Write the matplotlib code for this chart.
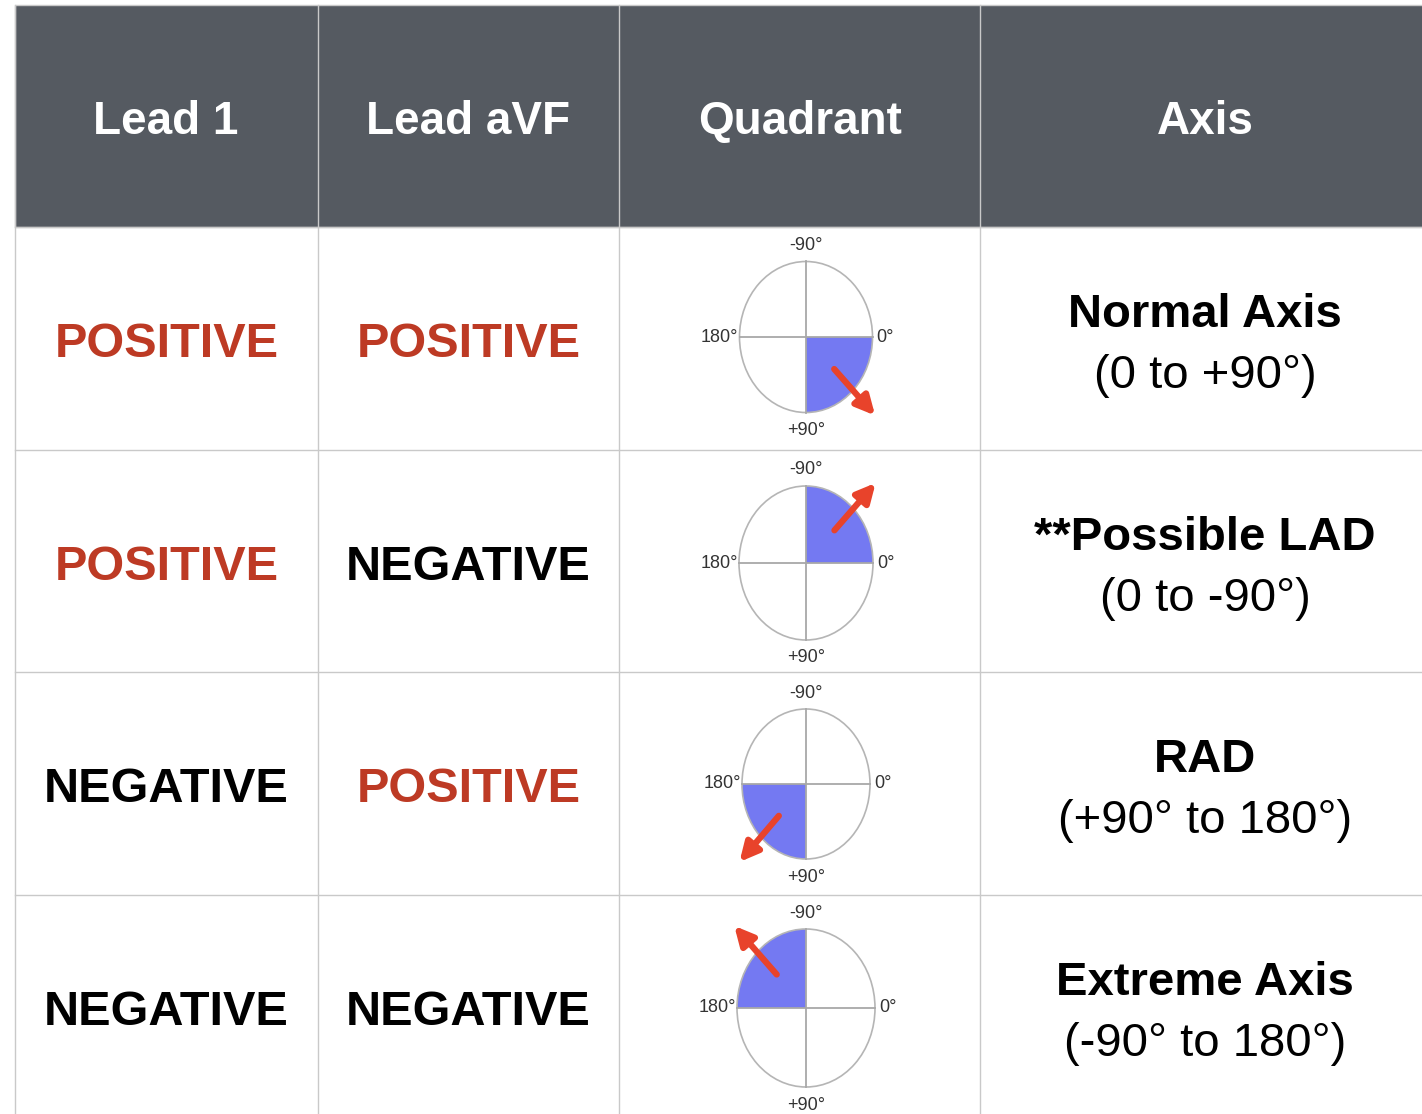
import math
import matplotlib
matplotlib.use('Agg')
import matplotlib.pyplot as plt
from matplotlib.patches import Rectangle, Wedge, Ellipse

# table content
headers = ['Lead 1', 'Lead aVF', 'Quadrant', 'Axis']
lead1 = ['POSITIVE', 'POSITIVE', 'NEGATIVE', 'NEGATIVE']
lead_avf = ['POSITIVE', 'NEGATIVE', 'POSITIVE', 'NEGATIVE']
axis_name = ['Normal Axis', '**Possible LAD', 'RAD', 'Extreme Axis']
axis_range = ['(0 to +90°)', '(0 to -90°)', '(+90° to 180°)', '(-90° to 180°)']
# quadrant limits and mean vector direction (ECG degrees, +90 points down)
quad_from = [0, -90, 90, -180]
quad_to = [90, 0, 180, -90]
vector_deg = [45, -45, 135, -135]

FONT = ['Liberation Sans', 'DejaVu Sans']
HEAD_BG = '#555a61'
GRID = '#c9c9c9'
RED = '#bd3a24'
BLUE = '#7479f2'
ARROW = '#e8432b'

W, H = 1422, 1114
col_x = [15, 318, 619, 980, 1440]
row_y = [5, 227, 450, 672, 895, 1118]
# ellipse geometry per row (pixel centre and half-axes)
circ_cy = [337, 563, 784, 1008]
circ_rx = [66.5, 67, 64, 69]
circ_ry = [75.5, 77, 75, 79]
circ_cx = 806

fig = plt.figure(figsize=(W / 100, H / 100), dpi=100)
ax = fig.add_axes([0, 0, 1, 1])
ax.set_xlim(0, W)
ax.set_ylim(H, 0)
ax.axis('off')

# header band
ax.add_patch(Rectangle((col_x[0], row_y[0]), col_x[-1] - col_x[0], row_y[1] - row_y[0],
                       facecolor=HEAD_BG, edgecolor=GRID, lw=1))
head_cx = [166, 468, 800, 1205]
for cx, h in zip(head_cx, headers):
    ax.text(cx, 134, h, ha='center', va='baseline', color='white', fontsize=33,
            fontweight='bold', family=FONT)

# grid lines
for y in row_y[1:-1]:
    ax.plot([col_x[0], col_x[-1]], [y, y], color=GRID, lw=1)
for x in col_x[:-1]:
    ax.plot([x, x], [row_y[0], row_y[-1]], color=GRID, lw=1)

for r in range(4):
    top = row_y[r + 1]
    for c, val in enumerate([lead1[r], lead_avf[r]]):
        cx = (col_x[c] + col_x[c + 1]) / 2
        ax.text(cx, top + 130, val, ha='center', va='baseline', fontsize=35, fontweight='bold',
                color=RED if val == 'POSITIVE' else 'black', family=FONT)
    ax.text(1205, top + 100, axis_name[r], ha='center', va='baseline', fontsize=34,
            fontweight='bold', color='black', family=FONT)
    ax.text(1205, top + 161, axis_range[r], ha='center', va='baseline', fontsize=34,
            color='black', family=FONT)

    # quadrant diagram in its own axes so a unit circle becomes the drawn ellipse
    rx, ry, ccy = circ_rx[r], circ_ry[r], circ_cy[r]
    qa = fig.add_axes([(circ_cx - rx) / W, 1 - (ccy + ry) / H, 2 * rx / W, 2 * ry / H])
    qa.set_xlim(-1, 1)
    qa.set_ylim(1, -1)
    qa.axis('off')
    qa.add_patch(Wedge((0, 0), 1, quad_from[r], quad_to[r], facecolor=BLUE, edgecolor='none'))
    qa.add_patch(Ellipse((0, 0), 2, 2, facecolor='none', edgecolor='#b5b5b5', lw=1.2,
                         clip_on=False))
    qa.plot([-1, 1], [0, 0], color='#a8a8a8', lw=1.3, clip_on=False)
    qa.plot([0, 0], [-1, 1], color='#a8a8a8', lw=1.3, clip_on=False)
    th = math.radians(vector_deg[r])
    ux, uy = math.cos(th), math.sin(th)
    qa.annotate('', xy=(1.47 * ux, 1.47 * uy), xytext=(0.6 * ux, 0.6 * uy),
                arrowprops=dict(arrowstyle='-|>', color=ARROW, lw=4.5, mutation_scale=28,
                                shrinkA=0, shrinkB=0),
                annotation_clip=False)

    # degree labels
    lab = dict(fontsize=13, color='#333333', family=FONT)
    ax.text(circ_cx, ccy - ry - 16, '-90°', ha='center', va='center', **lab)
    ax.text(circ_cx, ccy + ry + 18, '+90°', ha='center', va='center', **lab)
    ax.text(circ_cx - rx - 1, ccy, '180°', ha='right', va='center', **lab)
    ax.text(circ_cx + rx + 4, ccy, '0°', ha='left', va='center', **lab)

fig.savefig('out.png', dpi=100)
